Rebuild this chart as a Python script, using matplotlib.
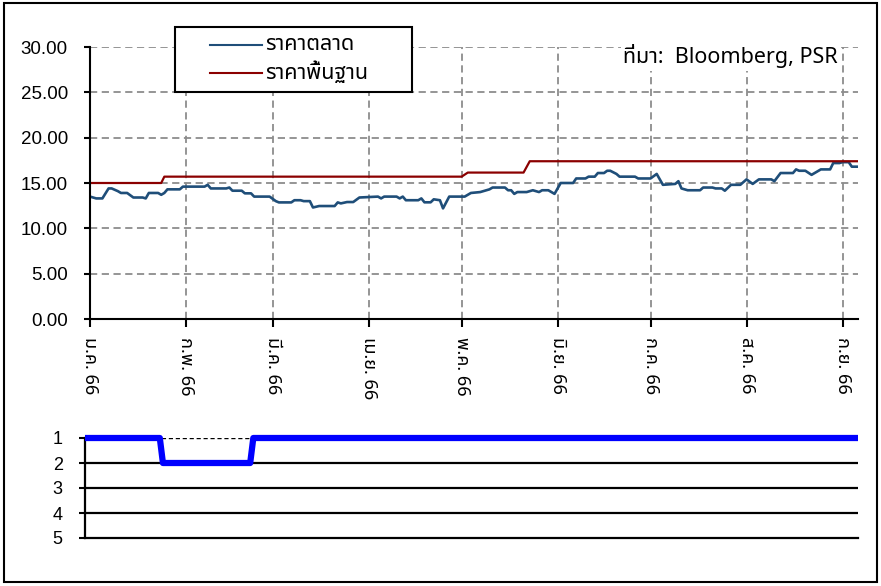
import matplotlib
matplotlib.use('Agg')
import matplotlib.pyplot as plt
import pandas as pd
from matplotlib import font_manager
from matplotlib.patches import Rectangle
from matplotlib.lines import Line2D

# ---------------- data ----------------
price_dates = ['2023-01-01', '2023-01-03', '2023-01-05', '2023-01-07', '2023-01-08', '2023-01-10',
               '2023-01-11', '2023-01-13', '2023-01-15', '2023-01-18', '2023-01-19', '2023-01-20',
               '2023-01-23', '2023-01-24', '2023-01-25', '2023-01-26', '2023-01-30', '2023-01-31',
               '2023-02-07', '2023-02-08', '2023-02-09', '2023-02-14', '2023-02-15', '2023-02-16',
               '2023-02-19', '2023-02-20', '2023-02-22', '2023-02-23', '2023-02-28', '2023-03-02',
               '2023-03-03', '2023-03-07', '2023-03-08', '2023-03-10', '2023-03-11', '2023-03-13',
               '2023-03-14', '2023-03-16', '2023-03-21', '2023-03-22', '2023-03-23', '2023-03-25',
               '2023-03-27', '2023-03-29', '2023-04-04', '2023-04-05', '2023-04-06', '2023-04-10',
               '2023-04-11', '2023-04-12', '2023-04-13', '2023-04-17', '2023-04-18', '2023-04-19',
               '2023-04-21', '2023-04-22', '2023-04-24', '2023-04-25', '2023-04-27', '2023-05-02',
               '2023-05-04', '2023-05-07', '2023-05-10', '2023-05-11', '2023-05-15', '2023-05-16',
               '2023-05-17', '2023-05-18', '2023-05-19', '2023-05-22', '2023-05-24', '2023-05-26',
               '2023-05-27', '2023-05-29', '2023-05-31', '2023-06-02', '2023-06-06', '2023-06-07',
               '2023-06-10', '2023-06-11', '2023-06-13', '2023-06-14', '2023-06-16', '2023-06-17',
               '2023-06-18', '2023-06-20', '2023-06-21', '2023-06-26', '2023-06-27', '2023-07-01',
               '2023-07-03', '2023-07-05', '2023-07-09', '2023-07-10', '2023-07-11', '2023-07-13',
               '2023-07-17', '2023-07-18', '2023-07-21', '2023-07-22', '2023-07-24', '2023-07-25',
               '2023-07-27', '2023-07-30', '2023-08-01', '2023-08-03', '2023-08-05', '2023-08-09',
               '2023-08-10', '2023-08-12', '2023-08-16', '2023-08-17', '2023-08-18', '2023-08-20',
               '2023-08-22', '2023-08-23', '2023-08-25', '2023-08-28', '2023-08-29', '2023-08-31',
               '2023-09-01', '2023-09-03', '2023-09-04', '2023-09-06']
price_values = [13.5, 13.3, 13.3, 14.4, 14.4, 14.1,
                13.9, 13.9, 13.4, 13.4, 13.3, 13.9,
                13.9, 13.7, 13.9, 14.3, 14.3, 14.6,
                14.6, 14.8, 14.4, 14.4, 14.5, 14.15,
                14.15, 13.86, 13.86, 13.5, 13.5, 13.0,
                12.86, 12.86, 13.1, 13.1, 13.0, 13.0,
                12.3, 12.46, 12.46, 12.86, 12.75, 12.9,
                12.9, 13.4, 13.5, 13.3, 13.5, 13.5,
                13.3, 13.5, 13.1, 13.1, 13.3, 12.87,
                12.87, 13.2, 13.1, 12.2, 13.5, 13.5,
                13.9, 14.0, 14.3, 14.5, 14.5, 14.2,
                14.2, 13.8, 14.0, 14.0, 14.2, 14.0,
                14.2, 14.2, 13.8, 15.0, 15.0, 15.5,
                15.5, 15.7, 15.7, 16.1, 16.1, 16.35,
                16.35, 16.0, 15.7, 15.7, 15.5, 15.5,
                16.0, 14.8, 14.9, 15.2, 14.4, 14.2,
                14.2, 14.5, 14.5, 14.4, 14.4, 14.15,
                14.8, 14.8, 15.4, 14.9, 15.4, 15.4,
                15.2, 16.1, 16.1, 16.5, 16.35, 16.35,
                15.9, 16.1, 16.5, 16.5, 17.2, 17.2,
                17.3, 17.3, 16.8, 16.8]

fair_dates = ['2023-01-01', '2023-01-24', '2023-01-25', '2023-05-01', '2023-05-03',
              '2023-05-21', '2023-05-23', '2023-09-06']
fair_values = [15.0, 15.0, 15.7, 15.7, 16.15, 16.15, 17.4, 17.4]

rank_dates = ['2023-01-01', '2023-01-25', '2023-01-26', '2023-02-23', '2023-02-24', '2023-09-06']
rank_values = [1, 1, 2, 2, 1, 1]

month_ticks = ['2023-01-01', '2023-02-01', '2023-03-01', '2023-04-01', '2023-05-01',
               '2023-06-01', '2023-07-01', '2023-08-01', '2023-09-01']
month_labels = ['ม.ค. 66', 'ก.พ. 66', 'มี.ค. 66', 'เม.ย. 66', 'พ.ค. 66',
                'มิ.ย. 66', 'ก.ค. 66', 'ส.ค. 66', 'ก.ย. 66']
price_ticks = [0, 5, 10, 15, 20, 25, 30]
rank_ticks = [1, 2, 3, 4, 5]
legend_labels = ['ราคาตลาด', 'ราคาพื้นฐาน']
source_text = 'ที่มา:  Bloomberg, PSR'
x_start, x_end = '2023-01-01', '2023-09-06'


# ---------------- fonts ----------------
def find_thai_fonts():
    names = []
    try:
        from fontTools.ttLib import TTFont
    except Exception:
        return names
    for f in font_manager.fontManager.ttflist:
        try:
            tt = TTFont(f.fname, fontNumber=0, lazy=True)
            cmap = tt.getBestCmap()
            if cmap and 0x0E23 in cmap and 0x0E32 in cmap:
                if f.name not in names:
                    names.append(f.name)
        except Exception:
            pass
    return names


thai_found = find_thai_fonts()
prefs = ['Noto Sans Thai', 'Noto Sans Thai UI', 'Noto Sans Thai Looped', 'Leelawadee UI', 'Tahoma']
thai_font = None
for p in prefs:
    if p in thai_found:
        thai_font = p
        break
if thai_font is None and thai_found:
    thai_font = thai_found[0]

latin = 'Liberation Sans'
thai_family = ([thai_font] if thai_font else []) + [latin, 'DejaVu Sans']
plt.rcParams['font.family'] = [latin, 'DejaVu Sans']

W, H = 881, 586
fig = plt.figure(figsize=(W / 100, H / 100), dpi=100)

BLUE = '#1F4E79'
RED = '#8B0000'
GRID = '#8C8C8C'

pd_price = pd.to_datetime(price_dates)
pd_fair = pd.to_datetime(fair_dates)
pd_rank = pd.to_datetime(rank_dates)
pd_ticks = pd.to_datetime(month_ticks)

# ---------------- top axes ----------------
ax = fig.add_axes([90 / W, 1 - 319 / H, (858 - 90) / W, 272 / H])
ax.plot(pd_price, price_values, color=BLUE, lw=1.9, zorder=3)
ax.plot(pd_fair, fair_values, color=RED, lw=1.6, zorder=3)
ax.set_xlim(pd.Timestamp(x_start), pd.Timestamp(x_end))
ax.set_ylim(0, 30)
ax.set_yticks(price_ticks)
ax.set_yticklabels([f'{v:.2f}' for v in price_ticks], fontsize=13.5)
ax.set_xticks(pd_ticks)
ax.set_xticklabels(month_labels, rotation=-90, fontsize=13, family=thai_family,
                   ha='center', va='top')
ax.tick_params(axis='y', direction='out', length=4, width=1.5, pad=12)
ax.tick_params(axis='x', direction='out', length=6, width=1.5, pad=7)
ax.grid(True, color=GRID, linestyle=(0, (4, 2.5)), lw=1.3)
ax.set_axisbelow(True)
for s in ['top', 'right']:
    ax.spines[s].set_visible(False)
for s in ['left', 'bottom']:
    ax.spines[s].set_linewidth(1.5)
    ax.spines[s].set_zorder(4)

# ---------------- legend (manual box) ----------------
lx0, ly0, lx1, ly1 = 175, 27, 412, 92
fig.add_artist(Rectangle((lx0 / W, 1 - ly1 / H), (lx1 - lx0) / W, (ly1 - ly0) / H,
                         transform=fig.transFigure, facecolor='white', edgecolor='black',
                         lw=1.5, zorder=10))
for i, (lab, col) in enumerate(zip(legend_labels, [BLUE, RED])):
    yy = 1 - (45 + i * 28) / H
    fig.add_artist(Line2D([210 / W, 262 / W], [yy, yy], transform=fig.transFigure,
                          color=col, lw=1.5, zorder=11))
    fig.text(265 / W, yy, lab, family=thai_family, fontsize=15.5, ha='left',
             va='center', zorder=11)

# ---------------- source ----------------
fig.text(838 / W, 1 - 63 / H, source_text, family=thai_family, fontsize=15.5,
         ha='right', va='baseline', zorder=10,
         bbox=dict(facecolor='white', edgecolor='none', pad=2))

# ---------------- bottom axes ----------------
ax2 = fig.add_axes([85 / W, 1 - 538 / H, (858 - 85) / W, 100 / H])
ax2.set_xlim(pd.Timestamp(x_start), pd.Timestamp(x_end))
ax2.set_ylim(5, 1)
ax2.set_yticks(rank_ticks)
ax2.set_yticklabels([str(v) for v in rank_ticks], fontsize=13)
ax2.set_xticks([])
for v in rank_ticks[1:4]:
    ax2.axhline(v, color='black', lw=1.6, zorder=1)
ax2.axhline(1, color='black', lw=1.0, linestyle=(0, (3, 2)), zorder=1)
ax2.plot(pd_rank, rank_values, color='#0000FF', lw=4.5, solid_joinstyle='round',
         solid_capstyle='butt', zorder=3, clip_on=False)
ax2.tick_params(axis='y', direction='out', length=4, width=1.5, pad=12)
for s in ['top', 'right']:
    ax2.spines[s].set_visible(False)
for s in ['left', 'bottom']:
    ax2.spines[s].set_linewidth(1.6)

# ---------------- outer border ----------------
fig.add_artist(Rectangle((4 / W, 4 / H), (877 - 4) / W, (583 - 4) / H,
                         transform=fig.transFigure, fill=False, edgecolor='black',
                         lw=1.5, zorder=20))

fig.savefig('out.png', dpi=100)
